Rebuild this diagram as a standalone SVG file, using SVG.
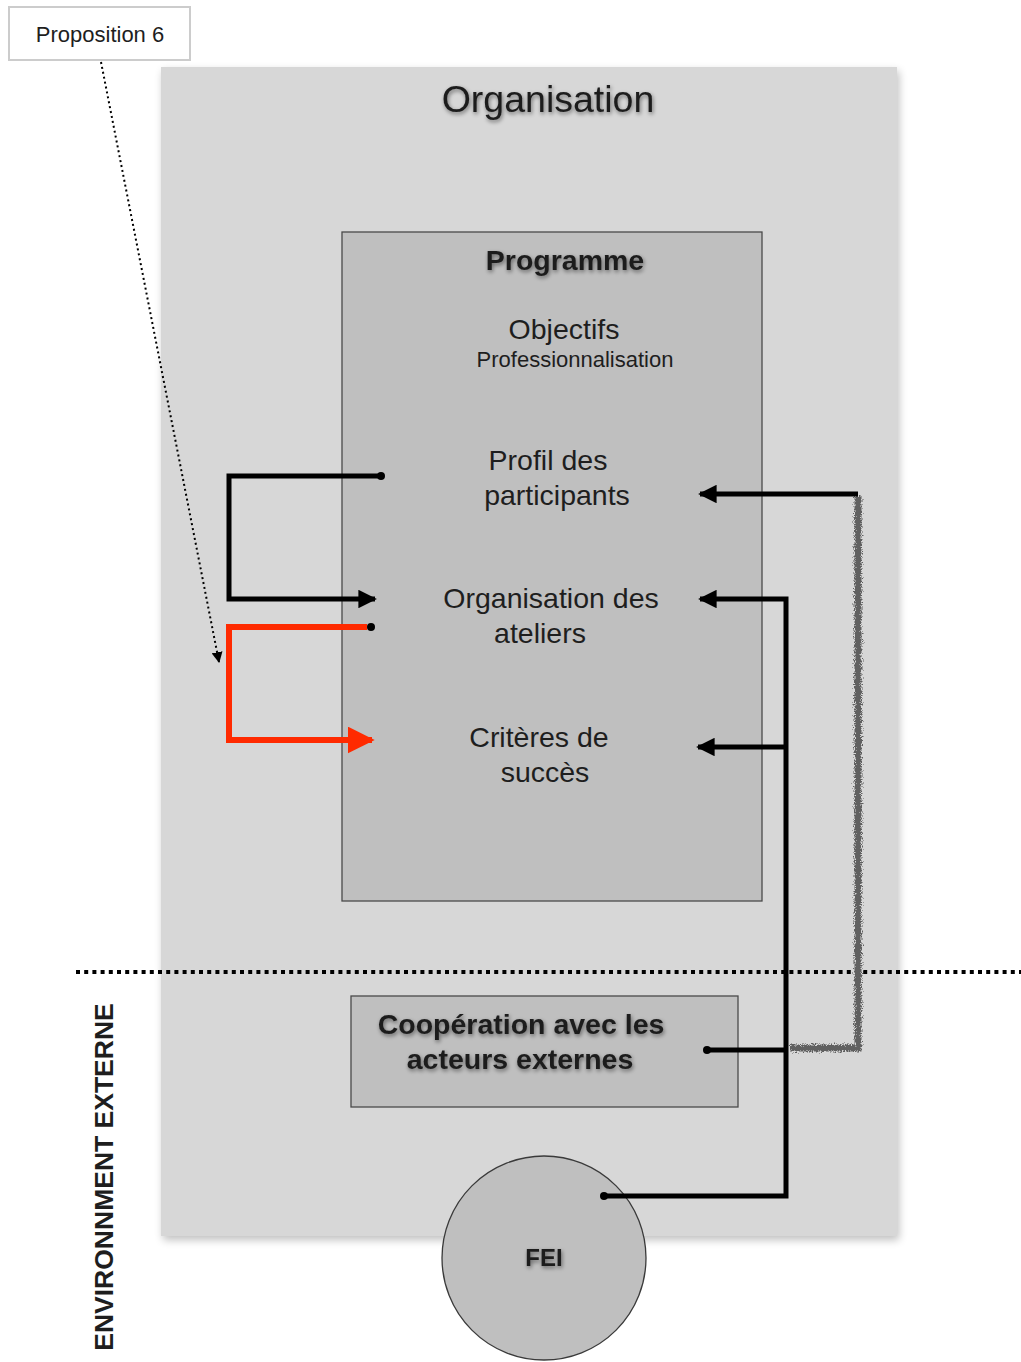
<svg xmlns="http://www.w3.org/2000/svg" width="1021" height="1362" viewBox="0 0 1021 1362">
  <defs>
    <style>
      text { font-family: "Liberation Sans", Arial, sans-serif; fill: #1e1e1e; }
      .title { font-size: 37.5px; }
      .item { font-size: 28.5px; }
      .small { font-size: 22px; }
      .bold { font-weight: bold; }
      .box { fill: #bfbfbf; stroke: #4a4a4a; stroke-width: 1.3; }
      .wire { fill: none; stroke: #000; stroke-width: 5; stroke-linejoin: miter; }
      .red { fill: none; stroke: #ff2a00; stroke-width: 6; }
    </style>
    <filter id="softShadow" x="-5%" y="-5%" width="115%" height="115%">
      <feGaussianBlur in="SourceAlpha" stdDeviation="4"/>
      <feOffset dx="2" dy="4"/>
      <feComponentTransfer><feFuncA type="linear" slope="0.25"/></feComponentTransfer>
      <feMerge><feMergeNode/><feMergeNode in="SourceGraphic"/></feMerge>
    </filter>
    <filter id="textShadow" x="-10%" y="-30%" width="120%" height="160%">
      <feGaussianBlur in="SourceAlpha" stdDeviation="2"/>
      <feOffset dx="1" dy="2"/>
      <feComponentTransfer><feFuncA type="linear" slope="0.5"/></feComponentTransfer>
      <feMerge><feMergeNode/><feMergeNode in="SourceGraphic"/></feMerge>
    </filter>
    <filter id="rough" x="-50%" y="-5%" width="200%" height="110%">
      <feTurbulence type="fractalNoise" baseFrequency="0.9" numOctaves="3" seed="7"/>
      <feDisplacementMap in="SourceGraphic" scale="7"/>
    </filter>
    <marker id="arrowBlack" viewBox="0 0 10 10" refX="9" refY="5" markerWidth="4" markerHeight="3.7" orient="auto" markerUnits="strokeWidth">
      <path d="M0,0 L10,5 L0,10 z" fill="#000"/>
    </marker>
    <marker id="arrowRed" viewBox="0 0 10 10" refX="9" refY="5" markerWidth="4.5" markerHeight="4.5" orient="auto" markerUnits="strokeWidth">
      <path d="M0,0 L10,5 L0,10 z" fill="#ff2a00"/>
    </marker>
    <marker id="arrowSmall" viewBox="0 0 10 10" refX="9" refY="5" markerWidth="11" markerHeight="11" orient="auto" markerUnits="userSpaceOnUse">
      <path d="M0,0 L10,5 L0,10 z" fill="#000"/>
    </marker>
    <marker id="dot" viewBox="0 0 10 10" refX="5" refY="5" markerWidth="1.6" markerHeight="1.6" markerUnits="strokeWidth">
      <circle cx="5" cy="5" r="5" fill="#000"/>
    </marker>
  </defs>

  <rect width="1021" height="1362" fill="#fff"/>

  <g id="organisation">
    <rect x="161" y="67" width="736" height="1169" fill="#d7d7d7" filter="url(#softShadow)"/>
    <text class="title" x="548" y="112" text-anchor="middle" filter="url(#textShadow)">Organisation</text>
  </g>

  <g id="programme">
    <rect class="box" x="342" y="232" width="420" height="669"/>
    <text class="item bold" x="565" y="270" text-anchor="middle" filter="url(#textShadow)">Programme</text>
    <text class="item" x="564" y="339" text-anchor="middle">Objectifs</text>
    <text class="small" x="575" y="367" text-anchor="middle">Professionnalisation</text>
  </g>

  <g id="profil">
    <text class="item" x="548" y="470" text-anchor="middle">Profil des</text>
    <text class="item" x="557" y="505" text-anchor="middle">participants</text>
  </g>

  <g id="ateliers">
    <text class="item" x="551" y="608" text-anchor="middle">Organisation des</text>
    <text class="item" x="540" y="643" text-anchor="middle">ateliers</text>
  </g>

  <g id="criteres">
    <text class="item" x="539" y="747" text-anchor="middle">Critères de</text>
    <text class="item" x="545" y="782" text-anchor="middle">succès</text>
  </g>

  <g id="cooperation">
    <rect class="box" x="351" y="996" width="387" height="111"/>
    <text class="item bold" x="521" y="1034" text-anchor="middle" filter="url(#textShadow)">Coopération avec les</text>
    <text class="item bold" x="520" y="1069" text-anchor="middle" filter="url(#textShadow)">acteurs externes</text>
  </g>

  <g id="fei">
    <circle cx="544" cy="1258" r="102" fill="#bfbfbf" stroke="#3a3a3a" stroke-width="1.3"/>
    <text class="bold" x="544" y="1266" font-size="24" text-anchor="middle" filter="url(#textShadow)">FEI</text>
  </g>

  <g id="proposition">
    <rect x="9" y="7" width="181" height="53" fill="#fff" stroke="#cccccc" stroke-width="2"/>
    <text x="100" y="42" font-size="22" text-anchor="middle">Proposition 6</text>
  </g>

  <g id="environnement">
    <text class="bold" x="0" y="0" font-size="26.5" text-anchor="middle" transform="translate(113 1177) rotate(-90)">ENVIRONNMENT EXTERNE</text>
  </g>

  <g id="connectors">
    <!-- boundary between the organisation and its environment -->
    <line x1="76" y1="972" x2="1021" y2="972" stroke="#000" stroke-width="4" stroke-dasharray="4 4.2"/>
    <!-- annotation pointer -->
    <line x1="101" y1="62" x2="219" y2="662" stroke="#000" stroke-width="2" stroke-dasharray="2 3" marker-end="url(#arrowSmall)"/>
    <!-- profile loop to workshops -->
    <path class="wire" d="M381,476 H229 V599 H375" marker-start="url(#dot)" marker-end="url(#arrowBlack)"/>
    <!-- workshops loop to success criteria -->
    <path class="red" d="M367,627 H229 V740 H372" marker-end="url(#arrowRed)"/>
    <circle cx="371" cy="627" r="4" fill="#000"/>
    <!-- external cooperation feedback (rough grey line) -->
    <path d="M858,496 V1048 H790" fill="none" stroke="#606060" stroke-width="7" filter="url(#rough)"/>
    <path class="wire" d="M858,494 H700" marker-end="url(#arrowBlack)"/>
    <!-- FEI trunk -->
    <path class="wire" d="M604,1196 H786 V599 H700" marker-start="url(#dot)" marker-end="url(#arrowBlack)"/>
    <path class="wire" d="M786,747 H698" marker-end="url(#arrowBlack)"/>
    <path class="wire" d="M707,1050 H786" marker-start="url(#dot)"/>
  </g>
</svg>
